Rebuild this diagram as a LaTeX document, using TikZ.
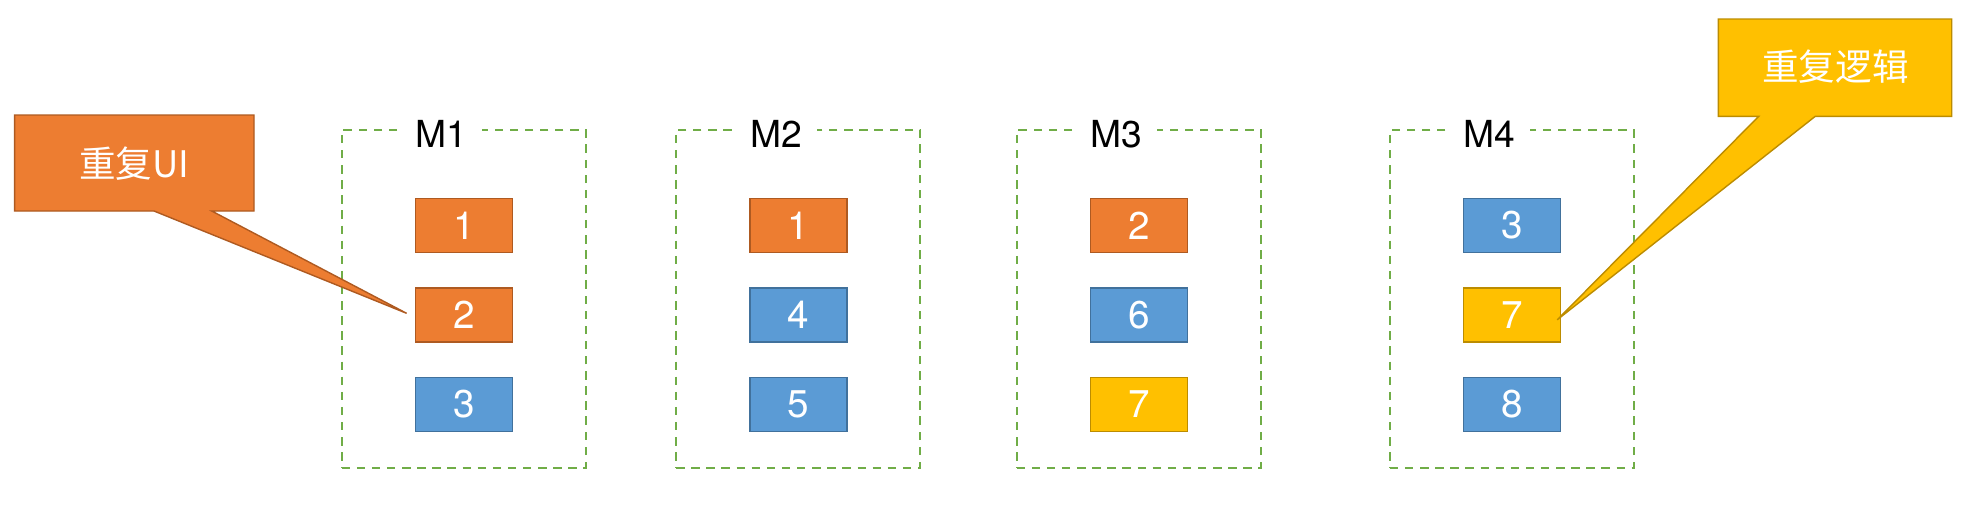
\documentclass[tikz,border=0pt]{standalone}
\usepackage{fontspec}
\setmainfont{TeX Gyre Heros}
\newfontfamily\cjk{Noto Sans CJK SC}
\usetikzlibrary{calc}
\definecolor{orfill}{HTML}{ED7D31}
\definecolor{ordraw}{HTML}{AE5A21}
\definecolor{blfill}{HTML}{5B9BD5}
\definecolor{bldraw}{HTML}{41719C}
\definecolor{yefill}{HTML}{FFC000}
\definecolor{yedraw}{HTML}{BC8C00}
\definecolor{grdash}{HTML}{70AD47}
\tikzset{
  cell/.style={minimum width=9.7mm, minimum height=5.4mm, inner sep=0pt, line width=0.4pt,
    text=white, font=\fontsize{11}{13}\selectfont},
  orcell/.style={cell, fill=orfill, draw=ordraw},
  blcell/.style={cell, fill=blfill, draw=bldraw},
  yecell/.style={cell, fill=yefill, draw=yedraw},
  module/.style={draw=grdash, line width=0.55pt, dash pattern=on 2.4pt off 1.9pt,
    minimum width=24.43mm, minimum height=33.77mm, inner sep=0pt},
  mlabel/.style={fill=white, inner xsep=1.5mm, inner ysep=0.5mm, anchor=base west,
    font=\fontsize{10.6}{12}\selectfont},
  callouttext/.style={text=white, font=\cjk\fontsize{10.4}{12}\selectfont, inner sep=0pt},
}
\begin{document}
\begin{tikzpicture}[x=0.1mm,y=-0.1mm]
\useasboundingbox (0,0) rectangle (1966,504);
% modules
\foreach \n/\cx in {1/463.8, 2/798.3, 3/1138.8, 4/1512} {
  \node[module] (M\n box) at (\cx,298.85) {};
  \node[mlabel] (M\n lab) at (\cx-64,147) {M\n};
}
% cells
\node[orcell] (a1) at (463.8,225.5) {1};
\node[orcell] (a2) at (463.8,314.8) {2};
\node[blcell] (a3) at (463.8,404.2) {3};
\node[orcell] (b1) at (798.3,225.5) {1};
\node[blcell] (b2) at (798.3,314.8) {4};
\node[blcell] (b3) at (798.3,404.2) {5};
\node[orcell] (c1) at (1138.8,225.5) {2};
\node[blcell] (c2) at (1138.8,314.8) {6};
\node[yecell] (c3) at (1138.8,404.2) {7};
\node[blcell] (d1) at (1512,225.5) {3};
\node[yecell] (d2) at (1512,314.8) {7};
\node[blcell] (d3) at (1512,404.2) {8};
% callout UI
\coordinate (tipUI) at ($(a2.west)+(-8,-1.5)$);
\draw[fill=orfill, draw=ordraw, line width=0.4pt, line join=miter]
  (14.7,115) -- (254,115) -- (254,211) -- (211.7,211) -- (tipUI) -- (154,211) -- (14.7,211) -- cycle;
\node[callouttext] (cUI) at (134.4,164) {重复UI};
% callout logic
\coordinate (tipLG) at ($(d2.east)+(-4,5)$);
\draw[fill=yefill, draw=yedraw, line width=0.4pt, line join=miter]
  (1718.3,19) -- (1951.7,19) -- (1951.7,116.3) -- (1815.3,116.3) -- (tipLG) -- (1758.7,116.3) -- (1718.3,116.3) -- cycle;
\node[callouttext] (cLG) at (1835.5,67) {重复逻辑};
\end{tikzpicture}
\end{document}
